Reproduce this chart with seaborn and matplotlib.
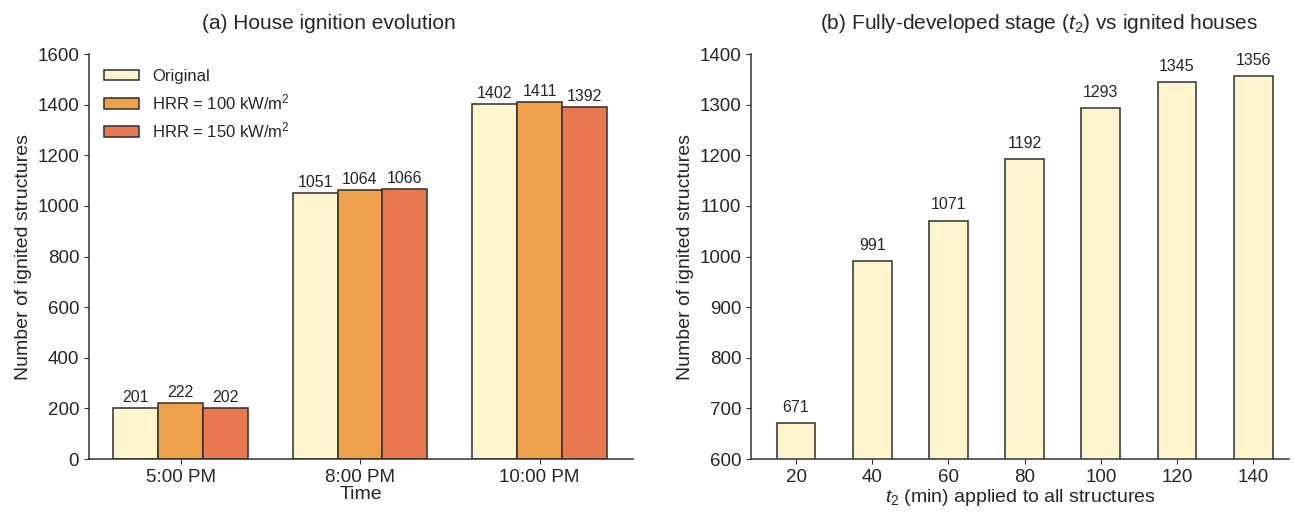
import matplotlib
matplotlib.use("Agg")
import matplotlib.pyplot as plt
import pandas as pd
import seaborn as sns

times = ["5:00 PM", "8:00 PM", "10:00 PM"]
scenarios = ["Original", "HRR = 100 kW/m$^2$", "HRR = 150 kW/m$^2$"]
original = [201, 1051, 1402]
hrr_100 = [222, 1064, 1411]
hrr_150 = [202, 1066, 1392]

t2_values = [20, 40, 60, 80, 100, 120, 140]
t2_ignited = [671, 991, 1071, 1192, 1293, 1345, 1356]

palette = ["#FEF5CF", "#EFA04A", "#E97750"]
edge = "#2e2e2e"

sns.set_style("ticks")
plt.rcParams["font.family"] = ["Liberation Sans", "DejaVu Sans"]
plt.rcParams["mathtext.fontset"] = "custom"
plt.rcParams["mathtext.rm"] = "Liberation Sans"
plt.rcParams["mathtext.it"] = "Liberation Sans:italic"

df_a = pd.DataFrame({
    "time": times * 3,
    "scenario": [scenarios[0]] * 3 + [scenarios[1]] * 3 + [scenarios[2]] * 3,
    "count": original + hrr_100 + hrr_150,
})
df_b = pd.DataFrame({"t2": [str(v) for v in t2_values], "count": t2_ignited})

fig = plt.figure(figsize=(12.95, 5.12), dpi=100)
ax_a = fig.add_axes([0.0687, 0.1035, 0.420, 0.791])
ax_b = fig.add_axes([0.580, 0.1035, 0.4154, 0.791])

sns.barplot(data=df_a, x="time", y="count", hue="scenario", palette=palette,
            width=0.75, saturation=1, edgecolor=edge, linewidth=1.1, ax=ax_a)
for cont in ax_a.containers:
    ax_a.bar_label(cont, padding=2, fontsize=11.5)
ax_a.set_ylim(0, 1600)
ax_a.set_xlim(-0.51, 2.52)
ax_a.set_xlabel("Time", fontsize=14, labelpad=0)
ax_a.set_ylabel("Number of ignited structures", fontsize=14)
ax_a.set_title("(a) House ignition evolution", fontsize=15, pad=18, x=0.441)
ax_a.tick_params(labelsize=13.5)
ax_a.legend(loc="upper left", bbox_to_anchor=(0.027, 0.963), frameon=False,
            fontsize=12, handlelength=2.1, handleheight=0.6, handletextpad=0.8,
            borderaxespad=0, borderpad=0, labelspacing=0.5)

sns.barplot(data=df_b, x="t2", y="count", color=palette[0], width=0.51,
            saturation=1, edgecolor=edge, linewidth=1.1, ax=ax_b)
for cont in ax_b.containers:
    ax_b.bar_label(cont, padding=6, fontsize=11.5)
ax_b.set_ylim(600, 1400)
ax_b.set_xlim(-0.59, 6.47)
ax_b.set_xlabel("$t_2$ (min) applied to all structures", fontsize=14, labelpad=1)
ax_b.set_ylabel("Number of ignited structures", fontsize=14)
ax_b.set_title("(b) Fully-developed stage ($t_2$) vs ignited houses", fontsize=15,
               pad=18, x=0.535)
ax_b.tick_params(labelsize=13.5)

for ax in (ax_a, ax_b):
    sns.despine(ax=ax)
    for s in ("left", "bottom"):
        ax.spines[s].set_color("#333333")
        ax.spines[s].set_linewidth(1.1)
    ax.tick_params(color="#333333")

fig.savefig("out.png", dpi=100)
